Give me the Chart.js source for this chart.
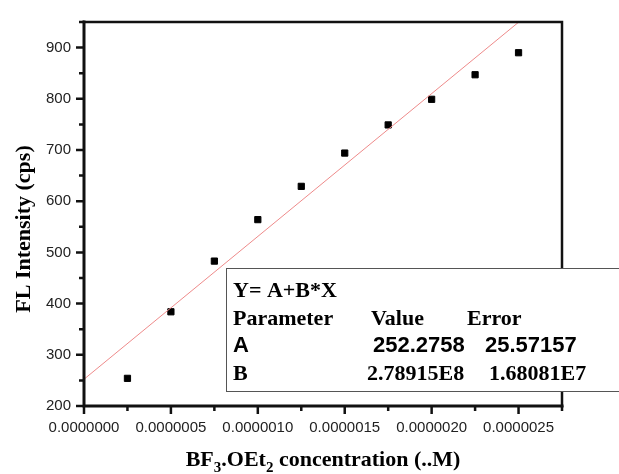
<!DOCTYPE html>
<html>
<head>
<meta charset="utf-8">
<script src="https://cdn.jsdelivr.net/npm/chart.js@4.4.0/dist/chart.umd.min.js"></script>
<style>
html, body { margin: 0; padding: 0; background: #fff; }
#wrap { width: 619px; height: 474px; }
</style>
</head>
<body>
<div id="wrap"><canvas id="myChart" width="619" height="474"></canvas></div>
<script>
// BF3.OEt2 concentration (M) against fluorescence intensity (cps)
var concentration = [2.5e-7, 5e-7, 7.5e-7, 1e-6, 1.25e-6, 1.5e-6, 1.75e-6, 2e-6, 2.25e-6, 2.5e-6];
var intensity = [254, 384, 483, 564, 629, 694, 749, 799, 847, 890];

// axis ticks
var xMajorTicks = [0, 5e-7, 1e-6, 1.5e-6, 2e-6, 2.5e-6];
var xMinorTicks = [2.5e-7, 7.5e-7, 1.25e-6, 1.75e-6, 2.25e-6, 2.75e-6];
var yMajorTicks = [200, 300, 400, 500, 600, 700, 800, 900];
var yMinorTicks = [250, 350, 450, 550, 650, 750, 850, 950];

// linear fit results, Y = A + B*X
var fitEquation = "Y= A+B*X";
var fitHeader = ["Parameter", "Value", "Error"];
var fitRowA = ["A", "252.2758", "25.57157"];
var fitRowB = ["B", "2.78915E8", "1.68081E7"];

var fitA = parseFloat(fitRowA[1]);
var fitB = parseFloat(fitRowB[1]);
var xMin = 0, xMax = 2.75e-6;
var fitLine = [
    { x: xMin, y: fitA + fitB * xMin },
    { x: xMax, y: fitA + fitB * xMax }
];

var points = concentration.map(function (c, i) {
    return { x: c, y: intensity[i] };
});

var INK = '#111';

// frame, tick marks, axis titles and the fit table
var decorations = {
    id: 'decorations',
    afterDraw: function (chart) {
        var ctx = chart.ctx;
        var area = chart.chartArea;
        var xs = chart.scales.x;
        var ys = chart.scales.y;

        ctx.save();
        ctx.strokeStyle = INK;
        ctx.lineCap = 'square';

        // top and right border
        ctx.lineWidth = 2.5;
        ctx.beginPath();
        ctx.moveTo(area.left, area.top);
        ctx.lineTo(area.right, area.top);
        ctx.lineTo(area.right, area.bottom);
        ctx.stroke();

        // left and bottom axis
        ctx.lineWidth = 3;
        ctx.beginPath();
        ctx.moveTo(area.left, area.top);
        ctx.lineTo(area.left, area.bottom);
        ctx.lineTo(area.right, area.bottom);
        ctx.stroke();

        // ticks point outward
        ctx.lineWidth = 2.5;
        ctx.lineCap = 'butt';
        ctx.beginPath();
        xMajorTicks.forEach(function (v) {
            var px = xs.getPixelForValue(v);
            ctx.moveTo(px, area.bottom);
            ctx.lineTo(px, area.bottom + 8);
        });
        xMinorTicks.forEach(function (v) {
            var px = xs.getPixelForValue(v);
            ctx.moveTo(px, area.bottom);
            ctx.lineTo(px, area.bottom + 5);
        });
        yMajorTicks.forEach(function (v) {
            var py = ys.getPixelForValue(v);
            ctx.moveTo(area.left, py);
            ctx.lineTo(area.left - 8, py);
        });
        yMinorTicks.forEach(function (v) {
            var py = ys.getPixelForValue(v);
            ctx.moveTo(area.left, py);
            ctx.lineTo(area.left - 5, py);
        });
        ctx.stroke();

        // y title
        ctx.fillStyle = '#000';
        ctx.font = 'bold 22px "Liberation Serif", "Times New Roman", serif';
        ctx.textAlign = 'center';
        ctx.textBaseline = 'alphabetic';
        ctx.save();
        ctx.translate(30, (area.top + area.bottom) / 2 + 15);
        ctx.rotate(-Math.PI / 2);
        ctx.fillText('FL Intensity (cps)', 0, 0);
        ctx.restore();

        // x title with subscripts
        var parts = [
            { t: 'BF' }, { t: '3', sub: true }, { t: '.OEt' }, { t: '2', sub: true },
            { t: ' concentration (..M)' }
        ];
        var mainFont = 'bold 22px "Liberation Serif", "Times New Roman", serif';
        var subFont = 'bold 15px "Liberation Serif", "Times New Roman", serif';
        var total = 0;
        parts.forEach(function (p) {
            ctx.font = p.sub ? subFont : mainFont;
            p.w = ctx.measureText(p.t).width;
            total += p.w;
        });
        var tx = (area.left + area.right) / 2 - total / 2;
        var baseY = 466;
        ctx.textAlign = 'left';
        parts.forEach(function (p) {
            ctx.font = p.sub ? subFont : mainFont;
            ctx.fillText(p.t, tx, p.sub ? baseY + 6 : baseY);
            tx += p.w;
        });

        // fit table
        ctx.fillStyle = '#fff';
        ctx.fillRect(226, 268, 400, 124);
        ctx.strokeStyle = '#555';
        ctx.lineWidth = 1;
        ctx.strokeRect(226.5, 268.5, 400, 123);

        ctx.fillStyle = '#000';
        var serif = 'bold 22px "Liberation Serif", "Times New Roman", serif';
        var sans = 'bold 22px "Liberation Sans", Arial, sans-serif';
        ctx.font = serif;
        ctx.fillText(fitEquation, 233, 297);
        ctx.fillText(fitHeader[0], 233, 325);
        ctx.fillText(fitHeader[1], 371, 325);
        ctx.fillText(fitHeader[2], 467, 325);
        ctx.font = sans;
        ctx.fillText(fitRowA[0], 233, 352);
        ctx.fillText(fitRowA[1], 373, 352);
        ctx.fillText(fitRowA[2], 485, 352);
        ctx.font = serif;
        ctx.fillText(fitRowB[0], 233, 380);
        ctx.fillText(fitRowB[1], 367, 380);
        ctx.fillText(fitRowB[2], 489, 380);

        ctx.restore();
    }
};

var ctx = document.getElementById('myChart').getContext('2d');
var chart = new Chart(ctx, {
    type: 'scatter',
    data: {
        datasets: [
            {
                type: 'line',
                data: fitLine,
                borderColor: '#ee8a8a',
                borderWidth: 1,
                pointRadius: 0,
                fill: false
            },
            {
                data: points,
                pointStyle: 'rect',
                pointRadius: 4.4,
                borderWidth: 1,
                backgroundColor: '#000',
                borderColor: '#000'
            }
        ]
    },
    options: {
        responsive: false,
        animation: false,
        devicePixelRatio: 1,
        layout: { padding: { left: 0, top: 15, right: 57, bottom: 0 } },
        plugins: {
            legend: { display: false },
            tooltip: { enabled: false }
        },
        scales: {
            x: {
                type: 'linear',
                min: xMin,
                max: xMax,
                grid: { display: false, drawTicks: false },
                border: { display: false },
                afterBuildTicks: function (scale) {
                    scale.ticks = xMajorTicks.map(function (v) { return { value: v }; });
                },
                afterFit: function (scale) { scale.height = 68; },
                ticks: {
                    padding: 13,
                    maxRotation: 0,
                    color: '#222',
                    font: { family: '"Liberation Sans", Arial, sans-serif', size: 15 },
                    callback: function (v) { return Number(v).toFixed(7); }
                }
            },
            y: {
                type: 'linear',
                min: 200,
                max: 950,
                grid: { display: false, drawTicks: false },
                border: { display: false },
                afterBuildTicks: function (scale) {
                    scale.ticks = yMajorTicks.map(function (v) { return { value: v }; });
                },
                afterFit: function (scale) { scale.width = 84; },
                ticks: {
                    padding: 13,
                    color: '#222',
                    font: { family: '"Liberation Sans", Arial, sans-serif', size: 15 },
                    callback: function (v) { return String(v); }
                }
            }
        }
    },
    plugins: [decorations]
});
</script>
</body>
</html>
